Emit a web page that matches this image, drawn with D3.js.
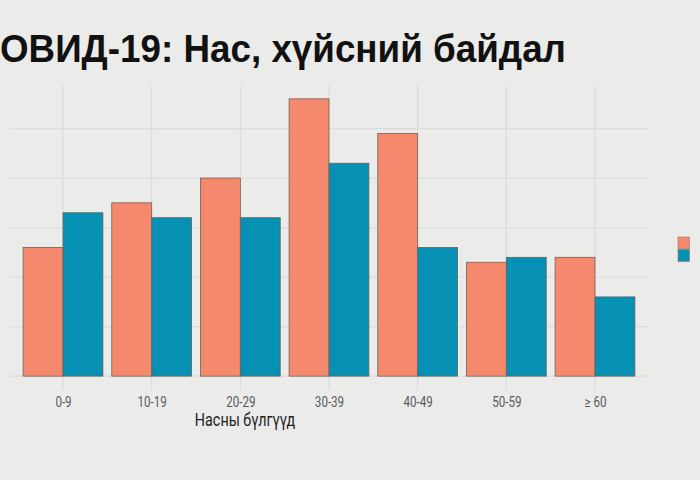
<!DOCTYPE html>
<html>
<head>
<meta charset="utf-8">
<script src="https://cdn.jsdelivr.net/npm/d3@7"></script>
<style>
  html, body { margin: 0; padding: 0; background: #ebebea; }
  svg { display: block; }
</style>
</head>
<body>
<svg id="chart" width="700" height="480"></svg>
<script>
const categories = ["0-9", "10-19", "20-29", "30-39", "40-49", "50-59", "≥ 60"];
const seriesNames = ["Эм", "Эр"];
const seriesA = [26, 35, 40, 56, 49, 23, 24];
const seriesB = [33, 32, 32, 43, 26, 24, 16];
const yTicks = [0, 10, 20, 30, 40, 50];
const colors = ["#f5896d", "#0590b4"];
const titleText = "ОВИД-19: Нас, хүйсний байдал";
const xTitle = "Насны бүлгүүд";

const svg = d3.select("#chart");

const panel = { left: 9.8, right: 648.2, top: 85, bottom: 390 };

const x = d3.scalePoint().domain(categories).range([panel.left, panel.right]).padding(0.6);
const y = d3.scaleLinear().domain([-2.8, 58.8]).range([panel.bottom, panel.top]);
const step = x.step();
const barW = step * 0.9 / 2;

// grid
const g = svg.append("g");
g.selectAll("line.h").data(yTicks).enter().append("line")
  .attr("x1", panel.left).attr("x2", panel.right)
  .attr("y1", d => y(d)).attr("y2", d => y(d))
  .attr("stroke", "#dcdcdc").attr("stroke-width", 1.3);
g.selectAll("line.v").data(categories).enter().append("line")
  .attr("x1", d => x(d)).attr("x2", d => x(d))
  .attr("y1", panel.top).attr("y2", panel.bottom)
  .attr("stroke", "#dcdcdc").attr("stroke-width", 1.3);

// bars
const data = categories.map((c, i) => ({ c, vals: [seriesA[i], seriesB[i]] }));
const grp = svg.append("g").selectAll("g").data(data).enter().append("g");
grp.selectAll("rect").data(d => d.vals.map((v, k) => ({ c: d.c, v, k }))).enter().append("rect")
  .attr("x", d => x(d.c) - barW + d.k * barW)
  .attr("width", barW)
  .attr("y", d => y(d.v))
  .attr("height", d => y(0) - y(d.v))
  .attr("fill", d => colors[d.k])
  .attr("stroke", "#6e6358")
  .attr("stroke-width", 0.8);

// x axis labels
const xAxis = d3.axisBottom(x).tickSize(0).tickPadding(0);
const ax = svg.append("g").attr("transform", `translate(0, ${panel.bottom + 7})`).call(xAxis);
ax.select(".domain").remove();
ax.selectAll("text")
  .attr("font-family", "Roboto, 'Liberation Sans', sans-serif")
  .attr("font-size", 14.5)
  .attr("fill", "#5a5a5a")
  .attr("transform", "scale(0.8,1)");

svg.append("text")
  .attr("transform", "translate(245, 426) scale(0.82,1)")
  .attr("text-anchor", "middle")
  .attr("font-family", "Roboto, 'Liberation Sans', sans-serif")
  .attr("font-size", 17.5)
  .attr("fill", "#222")
  .text(xTitle);

// title
svg.append("text")
  .attr("x", 0).attr("y", 62)
  .attr("font-family", "'Liberation Sans', Arial, sans-serif")
  .attr("font-weight", "bold")
  .attr("font-size", 38)
  .attr("fill", "#111")
  .attr("textLength", 566)
  .attr("lengthAdjust", "spacingAndGlyphs")
  .text(titleText);

// legend keys
const leg = svg.append("g").attr("transform", "translate(678, 237)");
leg.selectAll("rect").data(seriesNames).enter().append("rect")
  .attr("x", 0).attr("y", (d, i) => i * 12.5)
  .attr("width", 11.5).attr("height", 12)
  .attr("fill", (d, i) => colors[i])
  .attr("stroke", "#8a7a70").attr("stroke-width", 0.6);
</script>
</body>
</html>
